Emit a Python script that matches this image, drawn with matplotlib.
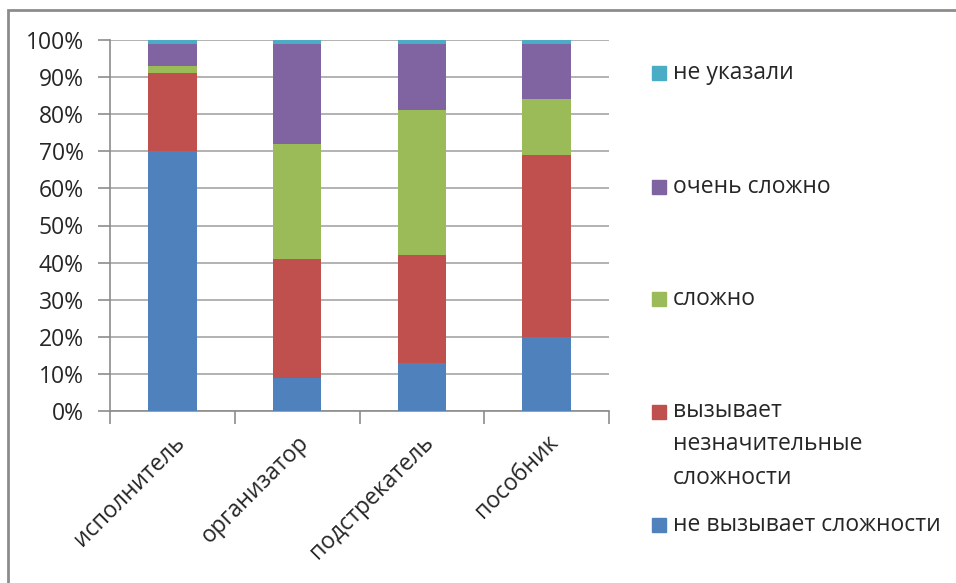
import numpy as np
import matplotlib
matplotlib.use("Agg")
import matplotlib.pyplot as plt
from matplotlib.patches import Rectangle
from matplotlib.ticker import PercentFormatter
from matplotlib.transforms import ScaledTranslation

plt.rcParams["font.family"] = ["Open Sans", "DejaVu Sans"]

roles = ["исполнитель", "организатор", "подстрекатель", "пособник"]
series = ["не вызывает сложности", "вызывает\nнезначительные\nсложности",
          "сложно", "очень сложно", "не указали"]
no_diff = [70, 9, 13, 20]
minor_diff = [21, 32, 29, 49]
hard = [2, 31, 39, 15]
very_hard = [6, 27, 18, 15]
not_given = [1, 1, 1, 1]
colors = ["#4F81BD", "#C0504D", "#9BBB59", "#8064A2", "#4BACC6"]
FS = 16.5

fig = plt.figure(figsize=(9.56, 5.83), dpi=100)
# outer chart frame (top and left edges visible)
fig.patches.append(Rectangle((8 / 956, -0.1), 1.2, 1 - 10 / 583 + 0.1,
                             transform=fig.transFigure, fill=False,
                             edgecolor="#8c8c8c", lw=2))

ax = fig.add_axes([110 / 956, 1 - 411 / 583, 499 / 956, 371 / 583])
x = np.arange(len(roles))
bottom = np.zeros(len(roles))
for vals, c in zip([no_diff, minor_diff, hard, very_hard, not_given], colors):
    ax.bar(x, vals, width=0.39, bottom=bottom, color=c, zorder=3)
    bottom += np.array(vals)

ax.set_xlim(-0.5, len(roles) - 0.5)
ax.set_ylim(0, 100)
ax.set_yticks(np.arange(0, 101, 10))
ax.yaxis.set_major_formatter(PercentFormatter(decimals=0))
ax.grid(axis="y", color="#a6a6a6", lw=1.2, zorder=0)
ax.set_xticks(np.arange(-0.5, len(roles)), minor=False)
ax.set_xticklabels([])
ax.set_xticks(x, minor=True)
ax.set_xticklabels(roles, minor=True, rotation=45, ha="right",
                   rotation_mode="anchor", fontsize=FS, color="#262626")
shift = ScaledTranslation(-7 / 100, 0, fig.dpi_scale_trans)
for t in ax.get_xticklabels(minor=True):
    t.set_transform(t.get_transform() + shift)
ax.tick_params(axis="x", which="major", length=9, color="#8c8c8c", width=1.2)
ax.tick_params(axis="x", which="minor", length=0, pad=14)
ax.tick_params(axis="y", length=9, color="#8c8c8c", width=1.2,
               labelsize=FS, labelcolor="#262626", pad=10)
for s in ["top", "right"]:
    ax.spines[s].set_visible(False)
for s in ["left", "bottom"]:
    ax.spines[s].set_color("#8c8c8c")
    ax.spines[s].set_linewidth(1.2)

# legend, drawn top-down in reverse stacking order
leg_y = [73, 187, 299, 412, 525]
for lbl, c, yy in zip(series[::-1], colors[::-1], leg_y):
    fig.patches.append(Rectangle((652 / 956, 1 - (yy + 7) / 583), 14 / 956, 14 / 583,
                                 transform=fig.transFigure, color=c))
    if "\n" in lbl:
        fig.text(673 / 956, 1 - (yy - 13) / 583, lbl, fontsize=FS, color="#262626",
                 va="top", linespacing=1.52)
    else:
        fig.text(673 / 956, 1 - yy / 583, lbl, fontsize=FS, color="#262626",
                 va="center")

fig.savefig("out.png", dpi=100)
